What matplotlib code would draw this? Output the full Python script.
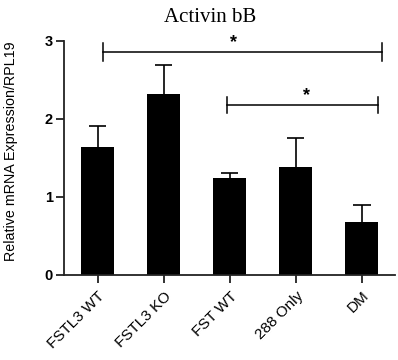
import numpy as np
import matplotlib
matplotlib.use("Agg")
import matplotlib.pyplot as plt

groups = ["FSTL3 WT", "FSTL3 KO", "FST WT", "288 Only", "DM"]
means = [1.64, 2.32, 1.24, 1.38, 0.68]
errors = [0.27, 0.37, 0.07, 0.38, 0.22]

# significance brackets: (x start, x end, height, tick half-length)
brackets = [(0.08, 4.3, 2.86, 0.11), (1.95, 4.25, 2.18, 0.1)]
star_x = [2.06, 3.16]

fig = plt.figure(figsize=(3.98, 3.6), dpi=100)
ax = fig.add_axes([64 / 398, 1 - 275 / 360, (395 - 64) / 398, (275 - 41) / 360])

x = np.arange(len(groups))
m = np.array(means)
e = np.array(errors)
ax.bar(x, m, width=0.5, color="black", zorder=2)
# upper error bars only (no cap at the bar top)
ax.vlines(x, m, m + e, color="black", lw=1.2, zorder=1)
ax.hlines(m + e, x - 0.13, x + 0.13, color="black", lw=1.2, zorder=1)

for (x0, x1, h, d), sx in zip(brackets, star_x):
    ax.plot([x0, x1], [h, h], color="black", lw=1.1, clip_on=False)
    ax.plot([x0, x0], [h - d, h + d], color="black", lw=1.1, clip_on=False)
    ax.plot([x1, x1], [h - d, h + d], color="black", lw=1.1, clip_on=False)
    ax.text(sx, h + 0.01, "*", ha="center", va="bottom", fontsize=13,
            fontweight="bold", family="Liberation Sans")

ax.set_xlim(-0.51, 4.5)
ax.set_ylim(0, 3)
ax.set_yticks([0, 1, 2, 3])
ax.set_yticklabels(["0", "1", "2", "3"], fontsize=10.5, fontweight="bold",
                   family="Liberation Sans")
ax.set_xticks(x)
ax.set_xticklabels(groups, rotation=45, ha="right", rotation_mode="anchor",
                   fontsize=11, family="Liberation Sans")

for s in ["top", "right"]:
    ax.spines[s].set_visible(False)
for s in ["left", "bottom"]:
    ax.spines[s].set_linewidth(1.3)
    ax.spines[s].set_color("#222222")
ax.tick_params(axis="both", length=6, width=1.3, color="#222222")
ax.tick_params(axis="y", pad=2)
ax.tick_params(axis="x", pad=4)

ax.set_ylabel("Relative mRNA Expression/RPL19", fontsize=10.3,
              family="Liberation Sans")
ax.yaxis.set_label_coords(-0.139, 0.53)
fig.text(210 / 398, 1 - 17 / 360, "Activin bB", ha="center", va="center",
         fontsize=15, family="Liberation Serif")

fig.savefig("out.png", dpi=100)
